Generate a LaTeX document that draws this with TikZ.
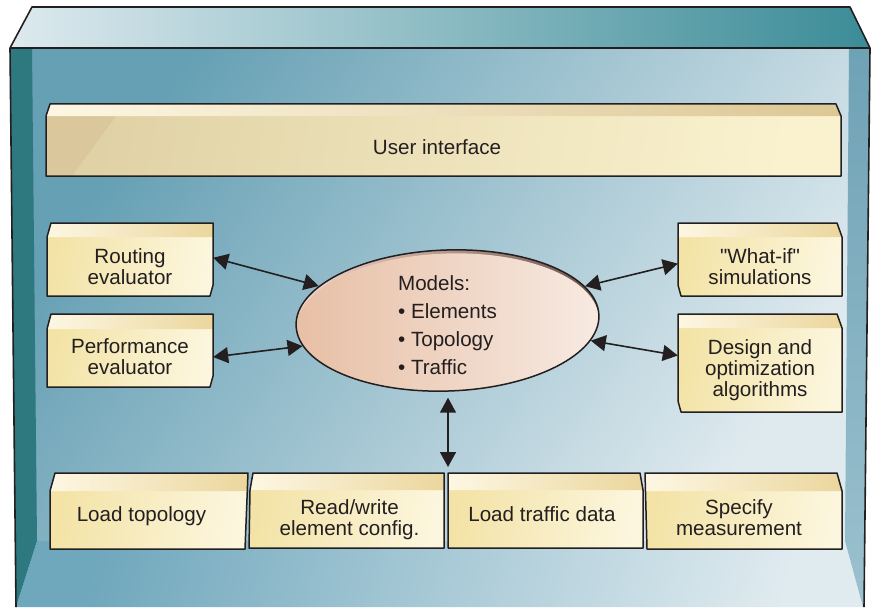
\documentclass[tikz,border=0pt]{standalone}
\usepackage{fontspec}
\setmainfont{Liberation Sans}[Ligatures=TeXOff]
\usetikzlibrary{arrows.meta,shapes.geometric,calc}

\definecolor{ink}{HTML}{231F20}
\definecolor{wallA}{HTML}{66A0B4}
\definecolor{wallB}{HTML}{DFEAEF}
\definecolor{floorA}{HTML}{6FA7BC}
\definecolor{floorB}{HTML}{E0EBF0}
\definecolor{lidA}{HTML}{DDEAEF}
\definecolor{lidB}{HTML}{48A5B4}
\definecolor{lidC}{HTML}{3B8C97}
\definecolor{sideL}{HTML}{2E7880}
\definecolor{sideRa}{HTML}{6EA2B5}
\definecolor{sideRb}{HTML}{9CC1CF}
\definecolor{faceA}{HTML}{F3E3A6}
\definecolor{faceB}{HTML}{FCF6DE}
\definecolor{stripA}{HTML}{FDF7E3}
\definecolor{stripB}{HTML}{EBD69D}
\definecolor{uiA}{HTML}{E0D2A5}
\definecolor{uiB}{HTML}{FAF2CF}
\definecolor{uiShade}{HTML}{DAC79C}
\definecolor{uiStripB}{HTML}{DCC794}
\definecolor{rimA}{HTML}{F7DCD0}
\definecolor{rimB}{HTML}{DDAD9C}
\definecolor{rimC}{HTML}{6E5048}
\definecolor{discA}{HTML}{E7BFA5}
\definecolor{discB}{HTML}{F7EAE2}

% a bevelled block: outline path, top strip path
\newcommand\slab[2]{%
  \shade[frontfill] #1 -- cycle;
  \shade[stripfill] #2 -- cycle;
  \draw[boxline] #1 -- cycle;}

\begin{document}
\begin{tikzpicture}[x=1pt,y=-1pt,
  boxline/.style={draw=ink,line width=1.5pt,line join=round},
  frontfill/.style={left color=faceA,right color=faceB,shading angle=80},
  stripfill/.style={left color=stripA,right color=stripB},
  lbl/.style={font=\fontsize{20.6}{20.8}\selectfont,text=ink,align=center,inner sep=0pt},
  link/.style={draw=ink,line width=1.6pt,{Triangle[length=15pt,width=16pt]}-{Triangle[length=15pt,width=16pt]}},
  frame/.style={draw=ink,line width=1.6pt,line join=round}]
\useasboundingbox (0,0) rectangle (874,607);

% back wall
\shade[left color=wallA,right color=wallB,shading angle=55] (32,48) rectangle (849,541);
% floor
\shade[left color=floorA,right color=floorB,shading angle=75]
  (37,541) -- (845,541) -- (863,607) -- (16,607) -- cycle;
% side walls
\fill[sideL] (10,48) -- (32,48) -- (37,541) -- (16,607) -- cycle;
\shade[top color=sideRa,bottom color=sideRb]
  (849,48) -- (870,48) -- (864,607) -- (863,607) -- (845,541) -- cycle;
% lid
\shade[left color=lidA,middle color=lidB,right color=lidC]
  (32,7) -- (850,7) -- (870,48) -- (10,48) -- cycle;
% frame edges
\draw[frame] (10,48) -- (32,7) -- (850,7) -- (870,48) -- cycle;
\draw[frame] (10,48) -- (16,607);
\draw[frame] (870,48) -- (864,607);

% user interface block
\shade[left color=uiA,right color=uiB,shading angle=80]
  (46,116) -- (841,116) -- (841,176) -- (46,176) -- cycle;
\fill[uiShade] (46,116) -- (116,116) -- (72,176) -- (46,176) -- cycle;
\shade[left color=stripA,right color=uiStripB]
  (46,116) -- (50,104) -- (836,104) -- (841,116) -- cycle;
\draw[boxline] (46,116) -- (50,104) -- (836,104) -- (841,116) -- (841,176) -- (46,176) -- cycle;
\node[lbl] (ui) at (437,147.5) {User interface};

% left column
\slab{(47,237) -- (51,223) -- (213,223) -- (213,285) -- (210,296) -- (47,296)}
     {(47,237) -- (51,223) -- (213,223) -- (213,237)}
\node[lbl,minimum width=166pt,minimum height=59pt] (routing) at (130,266.5) {Routing\\evaluator};

\slab{(47,329) -- (51,314) -- (213,314) -- (213,376) -- (210,387) -- (47,387)}
     {(47,329) -- (51,314) -- (213,314) -- (213,329)}
\node[lbl,minimum width=166pt,minimum height=58pt] (perf) at (130,357) {Performance\\evaluator};

% right column
\slab{(678,223) -- (837,223) -- (842,237) -- (842,296) -- (681,296) -- (678,285)}
     {(678,223) -- (837,223) -- (842,237) -- (678,237)}
\node[lbl,minimum width=164pt,minimum height=59pt] (whatif) at (760,266.5) {"What-if"\\simulations};

\slab{(678,314) -- (837,314) -- (842,328) -- (842,412) -- (681,412) -- (678,401)}
     {(678,314) -- (837,314) -- (842,328) -- (678,328)}
\node[lbl,minimum width=164pt,minimum height=84pt] (design) at (760,370) {Design and\\optimization\\algorithms};

% bottom row
\slab{(50,491) -- (55,473) -- (248,473) -- (245,549) -- (50,549)}
     {(50,491) -- (55,473) -- (248,473) -- (247.3,491)}
\node[lbl] (loadtopo) at (141.5,516.5) {Load topology};

\slab{(250,490) -- (253,473) -- (444,473) -- (444,548) -- (249,548)}
     {(250,490) -- (253,473) -- (444,473) -- (444,490)}
\node[lbl] (rwconfig) at (349.5,520) {Read/write\\element config.};

\slab{(448,473) -- (640,473) -- (643,490) -- (643,548) -- (448,548)}
     {(448,473) -- (640,473) -- (643,490) -- (448,490)}
\node[lbl] (traffic) at (542,514) {Load traffic data};

\slab{(645,473) -- (837,473) -- (842,491) -- (842,549) -- (647,549)}
     {(645,473) -- (837,473) -- (842,491) -- (645.7,491)}
\node[lbl] (measure) at (739,517.5) {Specify\\measurement};

\coordinate (busport) at (448,473);

% models disc
\begin{scope}[shift={(447.5,320.5)},rotate=2]
  \shade[left color=rimA,middle color=rimB,right color=rimC]
    (0,0) ellipse [x radius=151.5,y radius=70.5];
  \begin{scope}
    \clip (0,0) ellipse [x radius=151.5,y radius=70.5];
    \shade[left color=discA,right color=discB]
      (0,3.5) ellipse [x radius=151.5,y radius=70.5];
  \end{scope}
\end{scope}
\node[ellipse,rotate=2,draw=ink,line width=1.5pt,inner sep=0pt,
      minimum width=303pt,minimum height=141pt] (models) at (447.5,320.5) {};
\node[lbl,align=left,font=\fontsize{20.6}{28}\selectfont] (modellist) at (447.5,325.5)
  {Models:\\• Elements\\• Topology\\• Traffic};

% connectors
\draw[link] (routing.6) -- (models.163);
\draw[link] (perf.east) -- (models.188);
\draw[link] (whatif.178) -- (models.12);
\draw[link] (design.170) -- (models.350);
\draw[link] ($(busport |- models.south)+(0,6)$) -- ($(busport)+(0,-6)$);
\end{tikzpicture}
\end{document}
